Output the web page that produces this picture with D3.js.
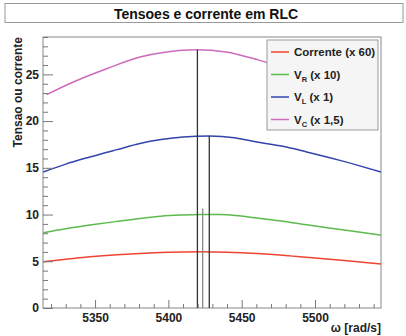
<!DOCTYPE html>
<html><head><meta charset="utf-8">
<script src="https://cdn.jsdelivr.net/npm/d3@7"></script>
<style>
html,body{margin:0;padding:0;background:#fff;}
svg{display:block;font-family:"Liberation Sans",Arial,sans-serif;}
</style></head>
<body>
<svg id="c" width="406" height="336"></svg>
<script>
const titleText = "Tensoes e corrente em RLC";
const yLabel = "Tensao ou corrente";
const xLabel = "ω [rad/s]";
const xMajorTicks = [5350, 5400, 5450, 5500];
const yMajorTicks = [0, 5, 10, 15, 20, 25];

// series: [omega, value]
const corrente = [[5314.7,4.95],[5330,5.22],[5346.5,5.48],[5365,5.7],[5380.6,5.84],[5400,5.96],[5421.6,6.01],[5440,5.97],[5460,5.84],[5478,5.65],[5494,5.42],[5520,5.07],[5545,4.7]];
const vR = [[5314.7,8.05],[5330,8.47],[5346.5,8.87],[5365,9.27],[5380.6,9.58],[5395,9.82],[5408,9.94],[5421.6,10.01],[5435,10.0],[5448,9.86],[5460.2,9.62],[5478,9.28],[5494.3,8.9],[5520,8.35],[5545,7.8]];
const vL = [[5314.7,14.56],[5330,15.4],[5346.5,16.16],[5365,16.95],[5380.6,17.6],[5395,18.02],[5410,18.3],[5428,18.4],[5445,18.22],[5460.2,17.77],[5478,17.3],[5494.3,16.7],[5517,15.8],[5545,14.56]];
const vC = [[5317,22.83],[5335.2,24.18],[5357.9,25.6],[5380.6,26.85],[5398.7,27.4],[5419,27.64],[5439.4,27.4],[5462.2,26.5],[5490,25.2],[5515,23.7],[5535,22.3]];
const peakLines = [[5419.8,27.64],[5423.4,10.65],[5427.9,18.4]];
const legendItems = [
  {name:"Corrente", sub:"", suffix:" (x 60)", color:"#ee4433"},
  {name:"V", sub:"R", suffix:" (x 10)", color:"#5cbb4c"},
  {name:"V", sub:"L", suffix:" (x 1)", color:"#3344aa"},
  {name:"V", sub:"C", suffix:" (x 1,5)", color:"#cc6bbb"}
];
const seriesList = [corrente, vR, vL, vC];

const svg = d3.select("#c");
const L = 43, R = 381, T = 37, B = 308;
const x = d3.scaleLinear().domain([5314.5, 5545]).range([L, R]);
const y = d3.scaleLinear().domain([0, 29]).range([B, T]);

// title box
svg.append("rect").attr("x",5).attr("y",3.5).attr("width",398).attr("height",19)
  .attr("fill","#fff").attr("stroke","#999");
svg.append("text").attr("x",206).attr("y",18.5).attr("text-anchor","middle")
  .attr("font-weight","bold").attr("font-size",14).attr("fill","#111").text(titleText);

// frame
svg.append("rect").attr("x",L).attr("y",T).attr("width",R-L).attr("height",B-T)
  .attr("fill","none").attr("stroke","#888");

// clip
svg.append("clipPath").attr("id","pc").append("rect").attr("x",L).attr("y",T).attr("width",R-L).attr("height",B-T);

// curves
const line = d3.line().x(d=>x(d[0])).y(d=>y(d[1])).curve(d3.curveMonotoneX);
const g = svg.append("g").attr("clip-path","url(#pc)");
seriesList.forEach((s,i)=>{
  g.append("path").datum(s).attr("d",line).attr("fill","none")
    .attr("stroke",legendItems[i].color).attr("stroke-width",1.5);
});

// vertical peak lines
g.selectAll("line.pk").data(peakLines).enter().append("line")
  .attr("x1",d=>x(d[0])).attr("x2",d=>x(d[0]))
  .attr("y1",y(0)).attr("y2",d=>y(d[1]))
  .attr("stroke",(d,i)=>i===1?"#888":"#333").attr("stroke-width",1.3);

// axes
const xMinor = d3.range(5320, 5545, 10).filter(v=>!xMajorTicks.includes(v));
const yMinor = d3.range(0, 29.01, 1).filter(v=>!yMajorTicks.includes(v));

svg.append("g").attr("transform",`translate(0,${B})`)
  .call(d3.axisBottom(x).tickValues(xMajorTicks).tickFormat(d3.format("d")).tickSizeInner(-8).tickSizeOuter(0).tickPadding(5));
svg.append("g").attr("transform",`translate(0,${B})`)
  .call(d3.axisBottom(x).tickValues(xMinor).tickFormat("").tickSizeInner(-4).tickSizeOuter(0));
svg.append("g").attr("transform",`translate(${L},0)`)
  .call(d3.axisLeft(y).tickValues(yMajorTicks).tickFormat(d3.format("d")).tickSizeInner(-10).tickSizeOuter(0).tickPadding(4));
svg.append("g").attr("transform",`translate(${L},0)`)
  .call(d3.axisLeft(y).tickValues(yMinor).tickFormat("").tickSizeInner(-5).tickSizeOuter(0));
svg.selectAll(".domain").remove();
svg.selectAll(".tick line").attr("stroke","#777");
svg.selectAll(".tick text").attr("font-family","Liberation Sans, Arial, sans-serif")
  .attr("font-weight","bold").attr("font-size",12).attr("fill","#222");

// axis titles
svg.append("text").attr("transform","translate(22,37) rotate(-90)").attr("text-anchor","end")
  .attr("font-weight","bold").attr("font-size",12).attr("fill","#222").text(yLabel);
svg.append("text").attr("x",381).attr("y",332).attr("text-anchor","end")
  .attr("font-weight","bold").attr("font-size",12).attr("fill","#222").text(xLabel);

// legend
const lg = svg.append("g");
lg.append("rect").attr("x",267).attr("y",40).attr("width",111).attr("height",90)
  .attr("fill","#f5f5f5").attr("stroke","#999");
legendItems.forEach((it,i)=>{
  const yy = 52 + i*22.5;
  lg.append("line").attr("x1",271).attr("x2",289).attr("y1",yy).attr("y2",yy)
    .attr("stroke",it.color).attr("stroke-width",1.5);
  const t = lg.append("text").attr("x",294).attr("y",yy+4).attr("font-weight","bold")
    .attr("font-size",11.5).attr("fill","#222");
  t.append("tspan").text(it.name);
  if (it.sub) {
    t.append("tspan").attr("font-size",7.5).attr("dy",3).text(it.sub);
    t.append("tspan").attr("dy",-3).text(it.suffix);
  } else {
    t.append("tspan").text(it.suffix);
  }
});
</script>
</body></html>
